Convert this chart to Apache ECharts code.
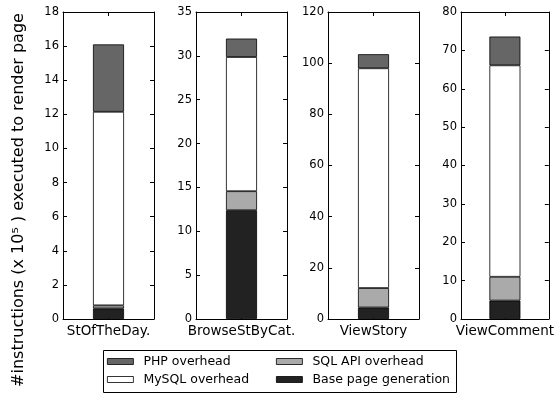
<!DOCTYPE html>
<html>
<head>
<meta charset="utf-8">
<script src="https://cdn.jsdelivr.net/npm/echarts@6/dist/echarts.min.js"></script>
<style>
  html, body { margin: 0; padding: 0; background: #fff; }
  #chart { width: 557px; height: 394px; }
</style>
</head>
<body>
<div id="chart"></div>
<script>
// one category per panel
const pages = ['StOfTheDay.', 'BrowseStByCat.', 'ViewStory', 'ViewComment'];
const seriesNames = ['Base page generation', 'SQL API overhead', 'MySQL overhead', 'PHP overhead'];
// values per panel (x 10^5 instructions), bottom to top
const basePage = [0.62, 12.4, 4.5, 4.8];
const sqlApi = [0.18, 2.17, 7.6, 6.2];
const mysql = [11.35, 15.3, 85.9, 55.1];
const php = [3.95, 2.1, 5.5, 7.5];
const yMax = [18, 35, 120, 80];
const yStep = [2, 5, 20, 10];

const colors = {
  'Base page generation': '#222222',
  'SQL API overhead': '#aaaaaa',
  'MySQL overhead': '#ffffff',
  'PHP overhead': '#666666'
};
const values = [basePage, sqlApi, mysql, php];

const gridLeft = [63, 196, 328, 461];
const font = 'DejaVu Sans';

const grids = [], xAxes = [], yAxes = [], series = [];
pages.forEach((p, g) => {
  grids.push({ left: gridLeft[g], top: 12, width: 91, height: 307 });
  const tickCfg = { show: true, inside: true, length: 4, alignWithLabel: true, lineStyle: { color: '#000' } };
  const lineCfg = { show: true, onZero: false, lineStyle: { color: '#000', width: 1 } };
  xAxes.push({
    gridIndex: g, type: 'category', data: [p], position: 'bottom',
    axisLine: lineCfg,
    axisTick: tickCfg,
    axisLabel: { color: '#000', fontFamily: font, fontSize: 13.5, margin: 5, interval: 0 }
  });
  xAxes.push({
    gridIndex: g, type: 'category', data: [p], position: 'top',
    axisLine: lineCfg,
    axisTick: tickCfg, axisLabel: { show: false }
  });
  const yBase = {
    gridIndex: g, type: 'value', min: 0, max: yMax[g], interval: yStep[g],
    splitLine: { show: false },
    axisLine: lineCfg,
    axisTick: { show: true, inside: true, length: 4, lineStyle: { color: '#000' } }
  };
  yAxes.push(Object.assign({}, yBase, {
    position: 'left',
    axisLabel: { color: '#000', fontFamily: font, fontSize: 11.5, margin: 4 }
  }));
  yAxes.push(Object.assign({}, yBase, { position: 'right', axisLabel: { show: false } }));

  seriesNames.forEach((name, k) => {
    series.push({
      name: name, type: 'bar', stack: 'panel' + g,
      xAxisIndex: g * 2, yAxisIndex: g * 2,
      barWidth: 31,
      data: [values[k][g]],
      itemStyle: { color: colors[name], borderColor: '#000', borderWidth: 0.8 },
      emphasis: { disabled: true }
    });
  });
});

const legendPos = [
  { name: 'PHP overhead', left: 107, top: 355 },
  { name: 'SQL API overhead', left: 276, top: 355 },
  { name: 'MySQL overhead', left: 107, top: 373 },
  { name: 'Base page generation', left: 276, top: 373 }
];
const legends = legendPos.map(l => ({
  data: [l.name], left: l.left, top: l.top, padding: 0,
  icon: 'rect', itemWidth: 26, itemHeight: 6,
  selectedMode: false,
  itemStyle: { borderColor: '#000', borderWidth: 0.8 },
  textStyle: { color: '#000', fontFamily: font, fontSize: 12.5, padding: [0, 0, 0, 5] }
}));

const chart = echarts.init(document.getElementById('chart'), null, { renderer: 'canvas' });
chart.setOption({
  animation: false,
  backgroundColor: '#fff',
  grid: grids,
  xAxis: xAxes,
  yAxis: yAxes,
  legend: legends,
  series: series,
  graphic: [
    {
      type: 'rect', shape: { x: 103.5, y: 350.5, width: 353, height: 42 },
      style: { fill: 'none', stroke: '#000', lineWidth: 1 }, z: 0
    },
    {
      type: 'text', x: 19, y: 200, rotation: Math.PI / 2,
      style: {
        text: '#instructions (x 10⁵ ) executed to render page',
        fill: '#000', font: '16px "DejaVu Sans"', align: 'center', verticalAlign: 'middle'
      }
    }
  ]
});
</script>
</body>
</html>
